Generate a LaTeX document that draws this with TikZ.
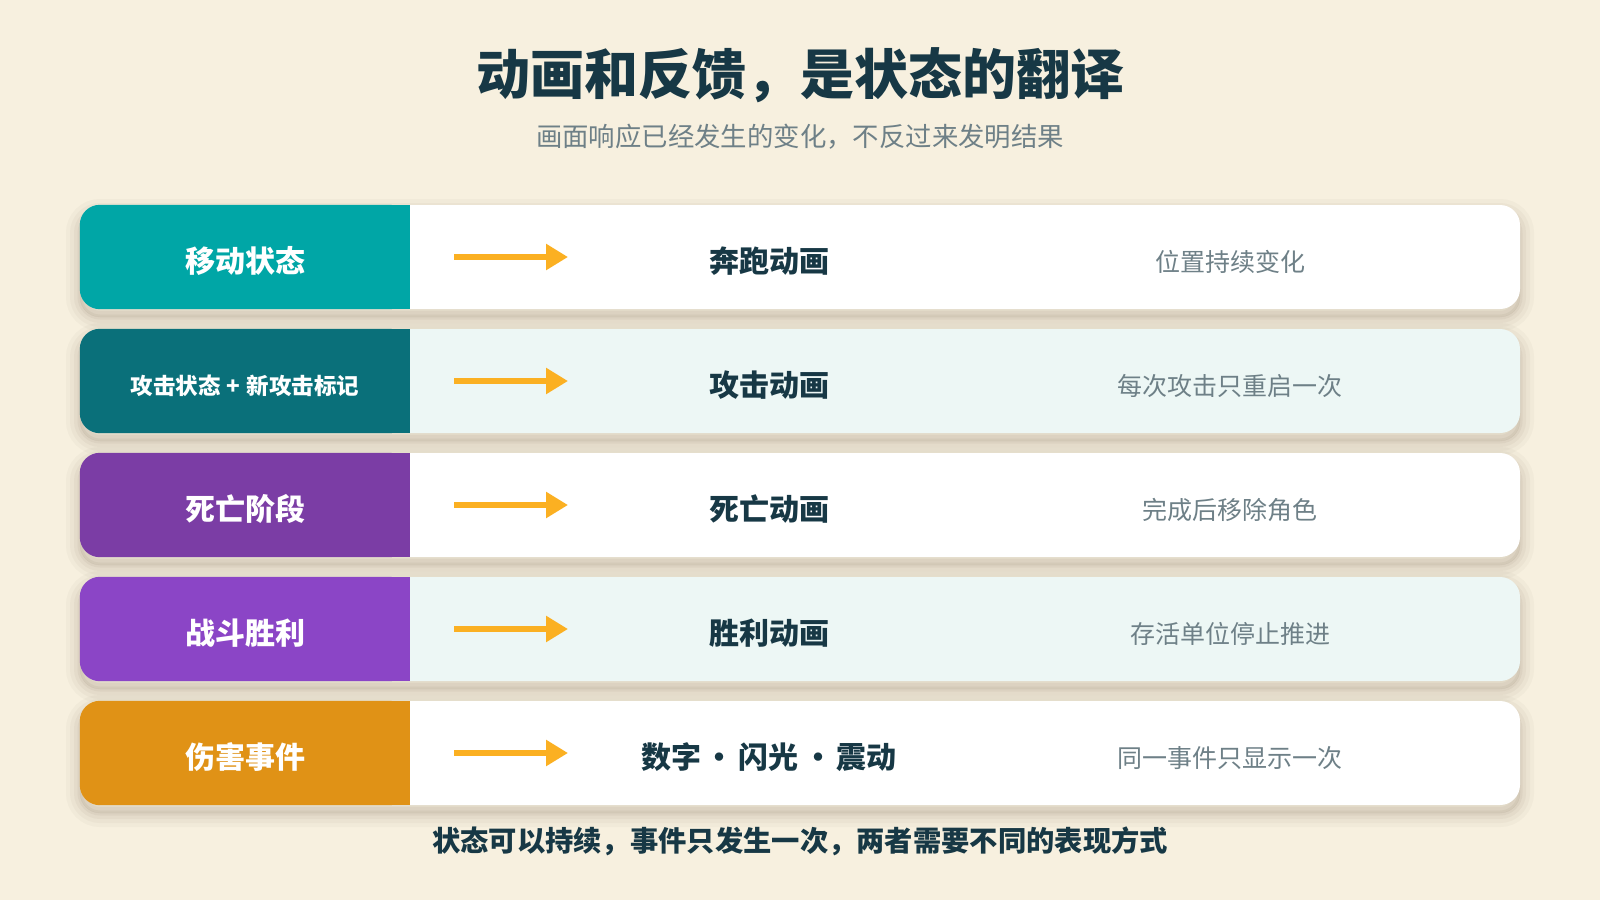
\documentclass[tikz,border=0pt]{standalone}
\usepackage{fontspec}
\setmainfont{Noto Sans CJK SC}
\usepackage{xcolor}
\usetikzlibrary{arrows.meta}
\definecolor{CF7F0DF}{HTML}{F7F0DF}
\definecolor{C173845}{HTML}{173845}
\definecolor{C6E8087}{HTML}{6E8087}
\definecolor{C00A6A6}{HTML}{00A6A6}
\definecolor{C0A707A}{HTML}{0A707A}
\definecolor{C7B3DA5}{HTML}{7B3DA5}
\definecolor{C8B45C6}{HTML}{8B45C6}
\definecolor{CE09216}{HTML}{E09216}
\definecolor{CFBB022}{HTML}{FBB022}
\definecolor{CEDF7F5}{HTML}{EDF7F5}
\definecolor{CFFFFFF}{HTML}{FFFFFF}
\definecolor{C4A3A20}{HTML}{4A3A20}

\begin{document}
\begin{tikzpicture}[inner sep=0pt,
  softshade/.style={preaction={draw=C4A3A20, draw opacity=#1, fill=C4A3A20, fill opacity=#1, transform canvas={yshift=-8pt}}},
  rowbox/.style={minimum height=104pt, minimum width=1440pt, rounded corners=20pt,
    preaction={draw=C4A3A20, draw opacity=.03, line width=28pt, transform canvas={yshift=-8pt}},
    preaction={draw=C4A3A20, draw opacity=.035, line width=20pt, transform canvas={yshift=-8pt}},
    preaction={draw=C4A3A20, draw opacity=.045, line width=12pt, transform canvas={yshift=-8pt}},
    preaction={draw=C4A3A20, draw opacity=.05, line width=5pt, transform canvas={yshift=-8pt}},
    softshade=.05},
  tabtext/.style={align=center, text=CFFFFFF, font=\bfseries\fontsize{30}{32}\selectfont},
  midtext/.style={align=center, text=C173845, font=\bfseries\fontsize{30}{32}\selectfont},
  notetext/.style={align=center, text=C6E8087, font=\fontsize{25}{27}\selectfont},
  flow/.style={-{Triangle[length=22pt,width=25pt]}, line width=6.5pt, draw=CFBB022}]
\useasboundingbox [fill=CF7F0DF] (0pt,0pt) rectangle (1600pt,-900pt);
\node (n0) [at={(800pt,-75pt)}, text=C173845, font=\bfseries\fontsize{54}{58}\selectfont] {动画和反馈，是状态的翻译};
\node (n00) [at={(800pt,-137pt)}, text=C6E8087, font=\fontsize{26.4}{28}\selectfont] {画面响应已经发生的变化，不反过来发明结果};
% row 1
\node (r1) [rowbox, fill=CFFFFFF, at={(800pt,-257pt)}] {};
\fill [C00A6A6, rounded corners=20pt] (r1.north west) rectangle ([xshift=330pt]r1.south west);
\fill [C00A6A6] ([xshift=165pt]r1.north west) rectangle ([xshift=330pt]r1.south west);
\node (t1) [tabtext, at={(245pt,-261pt)}] {移动状态};
\node (m1) [midtext, at={(769pt,-261pt)}] {奔跑动画};
\node (w1) [notetext, at={(1230pt,-262pt)}] {位置持续变化};
\coordinate (a1) at (454pt,-257pt);
\coordinate (b1) at (568pt,-257pt);
\path [flow] (a1)--(b1);
% row 2
\node (r2) [rowbox, fill=CEDF7F5, at={(800pt,-381pt)}] {};
\fill [C0A707A, rounded corners=20pt] (r2.north west) rectangle ([xshift=330pt]r2.south west);
\fill [C0A707A] ([xshift=165pt]r2.north west) rectangle ([xshift=330pt]r2.south west);
\node (t2) [tabtext, at={(245pt,-386pt)}, font=\bfseries\fontsize{22.5}{24}\selectfont] {攻击状态\hspace{6pt}+\hspace{6pt}新攻击标记};
\node (m2) [midtext, at={(769pt,-385pt)}] {攻击动画};
\node (w2) [notetext, at={(1230pt,-386pt)}] {每次攻击只重启一次};
\coordinate (a2) at (454pt,-381pt);
\coordinate (b2) at (568pt,-381pt);
\path [flow] (a2)--(b2);
% row 3
\node (r3) [rowbox, fill=CFFFFFF, at={(800pt,-505pt)}] {};
\fill [C7B3DA5, rounded corners=20pt] (r3.north west) rectangle ([xshift=330pt]r3.south west);
\fill [C7B3DA5] ([xshift=165pt]r3.north west) rectangle ([xshift=330pt]r3.south west);
\node (t3) [tabtext, at={(245pt,-509pt)}] {死亡阶段};
\node (m3) [midtext, at={(769pt,-509pt)}] {死亡动画};
\node (w3) [notetext, at={(1230pt,-510pt)}] {完成后移除角色};
\coordinate (a3) at (454pt,-505pt);
\coordinate (b3) at (568pt,-505pt);
\path [flow] (a3)--(b3);
% row 4
\node (r4) [rowbox, fill=CEDF7F5, at={(800pt,-629pt)}] {};
\fill [C8B45C6, rounded corners=20pt] (r4.north west) rectangle ([xshift=330pt]r4.south west);
\fill [C8B45C6] ([xshift=165pt]r4.north west) rectangle ([xshift=330pt]r4.south west);
\node (t4) [tabtext, at={(245pt,-633pt)}] {战斗胜利};
\node (m4) [midtext, at={(769pt,-633pt)}] {胜利动画};
\node (w4) [notetext, at={(1230pt,-634pt)}] {存活单位停止推进};
\coordinate (a4) at (454pt,-629pt);
\coordinate (b4) at (568pt,-629pt);
\path [flow] (a4)--(b4);
% row 5
\node (r5) [rowbox, fill=CFFFFFF, at={(800pt,-753pt)}] {};
\fill [CE09216, rounded corners=20pt] (r5.north west) rectangle ([xshift=330pt]r5.south west);
\fill [CE09216] ([xshift=165pt]r5.north west) rectangle ([xshift=330pt]r5.south west);
\node (t5) [tabtext, at={(245pt,-757pt)}] {伤害事件};
\node (m5) [midtext, at={(769pt,-757pt)}] {数字\hspace{4pt}·\hspace{4pt}闪光\hspace{4pt}·\hspace{4pt}震动};
\node (w5) [notetext, at={(1230pt,-758pt)}] {同一事件只显示一次};
\coordinate (a5) at (454pt,-753pt);
\coordinate (b5) at (568pt,-753pt);
\path [flow] (a5)--(b5);
\node (n9) [at={(800pt,-841pt)}, text=C173845, font=\bfseries\fontsize{28.3}{30}\selectfont] {状态可以持续，事件只发生一次，两者需要不同的表现方式};
\end{tikzpicture}
\end{document}
